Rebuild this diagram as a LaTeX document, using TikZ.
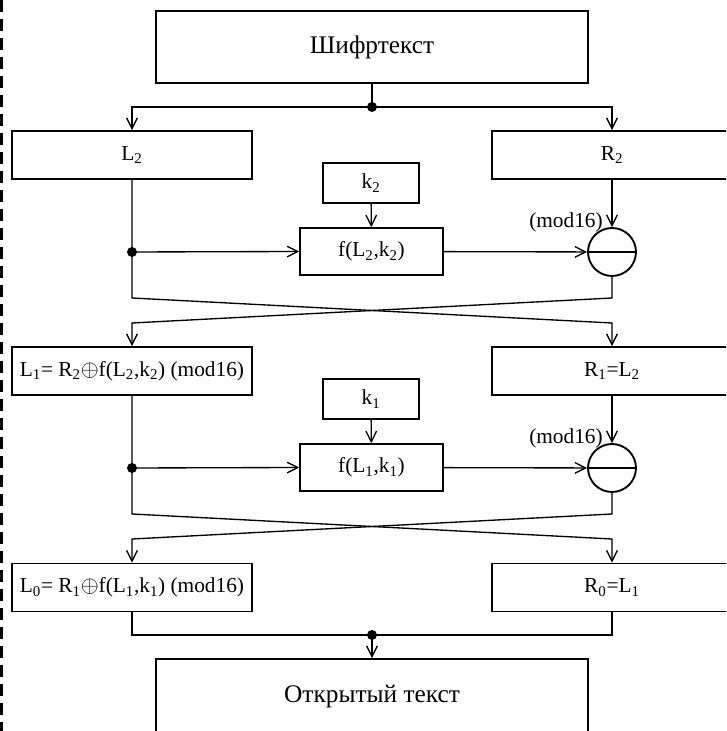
\documentclass[tikz,border=0pt]{standalone}
\usepackage{fontspec}
\setmainfont{Liberation Serif}
\usepackage{tikz}
\usetikzlibrary{arrows.meta,positioning}

\newcommand{\fsmall}{\fontsize{16}{19}\selectfont}
\newcommand{\fbig}{\fontsize{19}{23}\selectfont}

\tikzset{
  blk/.style={draw, line width=1.4pt, inner sep=0pt, font=\fsmall},
  halfblk/.style={blk, minimum width=180pt, minimum height=36pt},
  keyblk/.style={blk, minimum width=72pt, minimum height=30pt},
  funblk/.style={blk, minimum width=107pt, minimum height=35pt},
  endblk/.style={blk, minimum width=324pt, font=\fbig},
  subc/.style={draw, circle, line width=1.4pt, inner sep=0pt, minimum size=36pt},
  arr/.style={-{Straight Barb[length=8pt,width=8pt]}},
  link/.style={line width=1pt},
  modlbl/.style={font=\fsmall, inner sep=0pt}
}

\begin{document}
\begin{tikzpicture}[x=0.75pt,y=0.75pt]
  \useasboundingbox (0,0) rectangle (726,731);
  \clip (0,0) rectangle (726,731);

  %border
  \draw[line width=2.25pt, dash pattern=on 9pt off 5.25pt] (1.5,731) -- (1.5,0);

  %blocks
  \node[endblk, minimum height=54pt] (ct) at (372,684) {Шифртекст};
  \node[halfblk] (L2) at (132,576) {L\textsubscript{2}};
  \node[halfblk] (R2) at (612,576) {R\textsubscript{2}};
  \node[keyblk] (k2) at (371,548) {k\textsubscript{2}};
  \node[funblk] (f2) at (371.5,479.5) {f(L\textsubscript{2},k\textsubscript{2})};
  \node[subc] (sub2) at (612,479) {};
  \node[modlbl, anchor=east] (m2) at (603,509) {(mod16)};

  \node[halfblk] (L1) at (132,360) {L\textsubscript{1}= R\textsubscript{2}$\oplus$f(L\textsubscript{2},k\textsubscript{2}) (mod16)};
  \node[halfblk] (R1) at (612,360) {R\textsubscript{1}=L\textsubscript{2}};
  \node[keyblk] (k1) at (371,332) {k\textsubscript{1}};
  \node[funblk] (f1) at (371.5,263.5) {f(L\textsubscript{1},k\textsubscript{1})};
  \node[subc] (sub1) at (612,263) {};
  \node[modlbl, anchor=east] (m1) at (603,293) {(mod16)};

  \node[halfblk] (L0) at (132,143.5) {L\textsubscript{0}= R\textsubscript{1}$\oplus$f(L\textsubscript{1},k\textsubscript{1}) (mod16)};
  \node[halfblk] (R0) at (612,143.5) {R\textsubscript{0}=L\textsubscript{1}};
  \node[endblk, minimum height=57pt] (pt) at (372,34) {Открытый текст};

  %minus signs
  \draw[line width=1.4pt] (sub2.west) -- (sub2.east);
  \draw[line width=1.4pt] (sub1.west) -- (sub1.east);

  %branch points
  \coordinate (s0) at (372,624);
  \coordinate (d2) at (132,479);
  \coordinate (d1) at (132,263);
  \coordinate (j0) at (372,96);

  %crossings
  \coordinate (c2l) at (132,433);
  \coordinate (c2r) at (612,433);
  \coordinate (x2l) at (132,408);
  \coordinate (x2r) at (612,408);
  \coordinate (c1l) at (132,217);
  \coordinate (c1r) at (612,217);
  \coordinate (x1l) at (132,192);
  \coordinate (x1r) at (612,192);

  %first round
  \draw[link] (ct.south) -- (s0);
  \draw[link,arr] (s0) -| (L2.north);
  \draw[link,arr] (s0) -| (R2.north);
  \draw[link,arr] (k2) -- (f2);
  \draw[link,arr] (d2) -- (f2.west);
  \draw[link,arr] (f2) -- (sub2);
  \draw[link,arr] (R2) -- (sub2);
  \draw[link,arr] (L2.south) -- (c2l) -- (x2r) -- (R1.north);
  \draw[link,arr] (sub2.south) -- (c2r) -- (x2l) -- (L1.north);

  %second round
  \draw[link,arr] (k1) -- (f1);
  \draw[link,arr] (d1) -- (f1.west);
  \draw[link,arr] (f1) -- (sub1);
  \draw[link,arr] (R1) -- (sub1);
  \draw[link,arr] (L1.south) -- (c1l) -- (x1r) -- (R0.north);
  \draw[link,arr] (sub1.south) -- (c1r) -- (x1l) -- (L0.north);

  %output
  \draw[link] (L0.south) |- (j0);
  \draw[link] (R0.south) |- (j0);
  \draw[link,arr] (j0) -- (pt.north);

  %dots
  \fill (s0) circle (3.75pt);
  \fill (d2) circle (3.75pt);
  \fill (d1) circle (3.75pt);
  \fill (j0) circle (3.75pt);
\end{tikzpicture}
\end{document}
